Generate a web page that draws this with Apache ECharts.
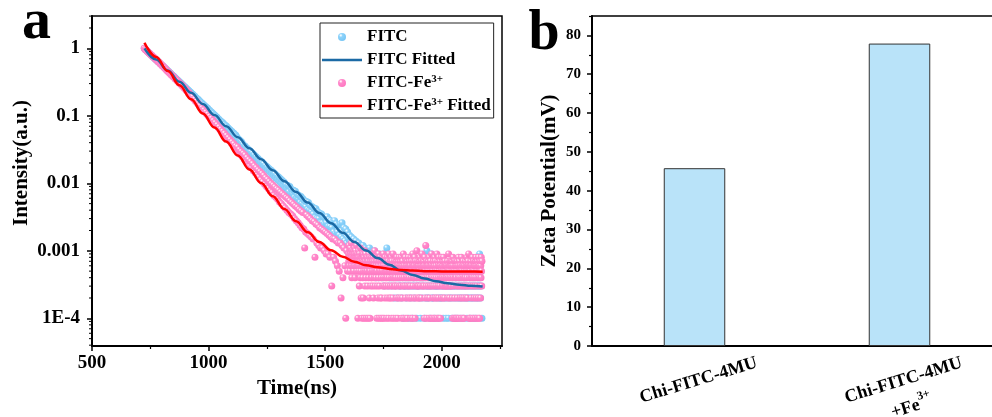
<!DOCTYPE html>
<html>
<head>
<meta charset="utf-8">
<title>FITC decay and zeta potential</title>
<script src="https://cdn.jsdelivr.net/npm/echarts@6.0.0/dist/echarts.min.js"></script>
<style>
    html, body { margin: 0; padding: 0; background: #fff; }
    #chart { width: 992px; height: 417px; }
</style>
</head>
<body>
<div id="chart"></div>
<script>

var FONT = '"Liberation Serif", "Times New Roman", serif';

// ---- panel a : decay curves, photon counts (peak normalised to 10000 counts = 1) ----
var countScale = 10000;

var fitcDecayStart = 724, fitcDecayStep = 4;
var fitcDecay = [
    10000, 9690, 9430, 9120, 8880, 8580, 8360, 8070, 7870, 7590,
    7400, 7140, 6970, 6720, 6560, 6320, 6180, 5950, 5810, 5600,
    5470, 5270, 5150, 4960, 4850, 4670, 4560, 4390, 4300, 4130,
    4040, 3890, 3810, 3660, 3580, 3440, 3370, 3240, 3180, 3050,
    2990, 2870, 2810, 2700, 2650, 2540, 2500, 2390, 2350, 2250,
    2210, 2110, 2080, 1990, 1960, 1870, 1840, 1760, 1740, 1660,
    1630, 1560, 1540, 1470, 1450, 1380, 1360, 1300, 1290, 1220,
    1210, 1150, 1140, 1080, 1072, 1016, 1008, 957, 951, 900,
    893, 846, 841, 796, 793, 750, 746, 705, 704, 663,
    660, 624, 622, 586, 586, 551, 551, 519, 519, 489,
    470, 443, 442, 418, 416, 392, 372, 351, 357, 329,
    334, 309, 314, 292, 297, 271, 280, 258, 262, 240,
    247, 226, 233, 212, 219, 199, 208, 187, 195, 176,
    184, 165, 174, 155, 165, 146, 156, 136, 147, 128,
    139, 120, 131, 113, 124, 106, 117, 99, 110, 93,
    104, 87, 95, 84, 93, 75, 90, 72, 81, 70,
    79, 62, 76, 61, 69, 58, 66, 52, 64, 50,
    59, 48, 55, 45, 54, 41, 52, 40, 47, 38,
    45, 35, 43, 31, 42, 30, 38, 30, 36, 26,
    35, 26, 32, 25, 31, 26, 32, 23, 29, 23,
    28, 22, 27, 19, 28, 18, 25, 19, 24, 17,
    25, 16, 26, 15, 22, 14, 21, 13, 19
];

var fitcTailStart = 1600, fitcTailStep = 2;
var fitcTail = [
    15, 12, 17, 11, 14, 10, 16, 13, 9, 14,
    12, 15, 10, 13, 11, 8, 14, 12, 10, 13,
    11, 9, 13, 10, 8, 12, 9, 11, 7, 10,
    9, 12, 8, 10, 7, 11, 9, 6, 10, 8,
    9, 7, 10, 6, 8, 11, 7, 9, 5, 8,
    8, 6, 9, 7, 5, 8, 10, 6, 7, 4,
    7, 9, 5, 8, 6, 4, 7, 9, 5, 6,
    6, 8, 4, 7, 5, 9, 3, 6, 7, 5,
    5, 7, 11, 6, 8, 3, 5, 7, 4, 6,
    6, 4, 7, 3, 5, 8, 4, 6, 2, 5,
    5, 3, 6, 4, 7, 2, 5, 4, 6, 3,
    4, 6, 3, 5, 2, 7, 4, 1, 5, 3,
    5, 3, 4, 6, 2, 5, 3, 7, 4, 1,
    3, 5, 4, 2, 6, 3, 5, 1, 4, 3,
    4, 2, 5, 3, 6, 4, 1, 5, 3, 4,
    3, 5, 2, 4, 1, 6, 3, 4, 2, 5,
    4, 3, 5, 1, 4, 2, 6, 3, 10, 2,
    3, 5, 2, 4, 3, 1, 5, 3, 9, 2,
    4, 2, 5, 3, 1, 4, 3, 6, 2, 3,
    3, 4, 1, 5, 2, 3, 4, 2, 6, 3,
    2, 4, 3, 1, 5, 3, 2, 4, 3, 1,
    4, 2, 3, 5, 1, 3, 4, 2, 3, 6,
    2, 3, 1, 4, 3, 5, 2, 3, 1, 4,
    3, 2, 4, 1, 3, 5, 2, 4, 3, 2,
    1, 4, 3, 2, 5, 3, 1, 4, 2, 3,
    3, 5, 2, 4, 1, 3, 2, 6, 3, 2,
    4, 1, 3, 2, 5, 3, 2, 4, 1, 3,
    2, 4, 3, 1, 5, 2, 3, 4, 2, 3,
    3, 9, 4, 2, 5, 3, 1
];

var feDecayStart = 724, feDecayStep = 4;
var feDecay = [
    10000, 9590, 9400, 9010, 8900, 8540, 8370, 8050, 7880, 7560,
    7420, 7130, 6980, 6700, 6570, 6310, 6190, 5930, 5820, 5580,
    5470, 5230, 5120, 4880, 4790, 4590, 4500, 4300, 4210, 4030,
    3960, 3780, 3710, 3540, 3480, 3340, 3280, 3120, 3070, 2930,
    2900, 2740, 2720, 2560, 2540, 2400, 2350, 2220, 2190, 2060,
    2030, 1920, 1890, 1780, 1760, 1650, 1640, 1530, 1520, 1420,
    1410, 1320, 1310, 1225, 1220, 1140, 1135, 1055, 1060, 980,
    985, 910, 918, 845, 850, 786, 790, 728, 735, 676,
    684, 628, 636, 582, 591, 540, 550, 500, 512, 466,
    476, 431, 443, 400, 412, 371, 384, 344, 357, 319,
    345, 290, 315, 268, 296, 250, 279, 229, 262, 214,
    241, 198, 224, 180, 210, 170, 196, 154, 181, 143,
    170, 133, 158, 124, 149, 112, 140, 105, 131, 97,
    121, 90, 114, 84, 106, 77, 99, 73, 94, 66,
    88, 62, 83, 58, 79, 53, 74, 50, 70, 46,
    66, 43, 62, 40, 59, 37, 55, 35, 52, 33,
    49, 30, 46, 28, 44, 26, 41, 24, 39, 22,
    37, 21, 11, 19, 34, 18, 32, 17, 30, 16,
    28, 15, 27, 8, 25, 13, 24, 12, 22, 11,
    21, 11, 20, 10, 19, 9, 18, 9, 17, 8,
    16, 3, 15, 8, 15, 7, 14, 6, 13, 5,
    13, 2, 12, 4, 11, 6, 1, 10, 5
];

var feTailStart = 1600, feTailStep = 1;
var feTail = [
    9, 7, 12, 6, 8, 10, 5, 8, 11, 7, 9, 6, 13, 8, 4, 10, 7, 9, 6, 8,
    7, 10, 5, 8, 9, 6, 11, 7, 4, 8, 10, 6, 9, 7, 12, 5, 8, 6, 9, 7,
    1, 8, 6, 10, 5, 7, 3, 9, 6, 8, 4, 11, 7, 5, 2, 8, 6, 9, 1, 7,
    6, 4, 9, 2, 7, 5, 8, 1, 6, 10, 3, 7, 5, 9, 4, 6, 1, 8, 5, 7,
    5, 8, 3, 6, 1, 7, 4, 9, 5, 2, 6, 8, 1, 5, 7, 3, 6, 4, 8, 6,
    4, 7, 5, 9, 3, 6, 8, 2, 5, 7, 4, 6, 10, 5, 3, 8, 6, 4, 7, 5,
    6, 1, 5, 8, 3, 7, 2, 6, 4, 9, 1, 5, 7, 3, 6, 8, 2, 5, 1, 7,
    4, 6, 2, 8, 5, 1, 7, 3, 6, 9, 4, 5, 1, 7, 3, 6, 2, 8, 5, 4,
    7, 3, 5, 1, 6, 4, 8, 2, 5, 7, 3, 6, 1, 9, 4, 5, 2, 6, 7, 3,
    5, 2, 6, 8, 1, 4, 7, 3, 5, 6, 2, 9, 4, 1, 6, 5, 3, 7, 4, 6,
    3, 6, 4, 1, 7, 5, 2, 8, 6, 3, 5, 1, 4, 7, 6, 2, 5, 8, 3, 6,
    5, 4, 7, 2, 6, 3, 8, 1, 5, 6, 4, 2, 7, 5, 3, 9, 1, 6, 4, 5,
    6, 3, 5, 8, 2, 1, 7, 4, 6, 5, 3, 7, 1, 4, 6, 2, 8, 5, 3, 6,
    4, 7, 2, 5, 6, 3, 1, 8, 5, 4, 7, 2, 6, 5, 1, 9, 3, 6, 4, 7,
    5, 2, 6, 4, 8, 1, 5, 7, 3, 6, 2, 5, 4, 10, 6, 3, 7, 5, 2, 6,
    3, 6, 5, 7, 2, 4, 8, 5, 3, 6, 4, 7, 5, 2, 6, 9, 4, 5, 3, 7,
    6, 4, 7, 3, 5, 1, 6, 8, 2, 5, 4, 12, 6, 3, 7, 1, 5, 4, 6, 2,
    5, 7, 3, 6, 4, 1, 8, 5, 2, 6, 3, 7, 5, 1, 4, 6, 9, 3, 5, 1,
    4, 6, 2, 7, 5, 3, 1, 6, 4, 8, 2, 5, 7, 1, 3, 6, 4, 5, 2, 9,
    1, 5, 7, 3, 6, 4, 2, 8, 1, 5, 6, 3, 7, 4, 1, 6, 5, 2, 8, 4,
    5, 3, 6, 4, 7, 2, 5, 8, 3, 6, 4, 5, 2, 7, 6, 3, 5, 4, 6, 3,
    6, 4, 5, 3, 7, 2, 6, 5, 4, 9, 3, 6, 5, 2, 7, 4, 6, 3, 5, 7,
    3, 6, 4, 7, 2, 5, 1, 6, 8, 4, 5, 3, 1, 7, 5, 2, 6, 4, 1, 7,
    5, 4, 1, 6, 3, 7, 2, 5, 1, 6, 4, 8, 3, 5, 1, 7, 4, 6, 2, 5,
    6, 3, 5, 1, 8, 4, 2, 6, 5, 3, 1, 7, 4, 6, 2, 5, 1, 6, 4, 3,
    4, 7, 5, 2, 6, 3, 5, 8, 4, 6, 2, 5, 7, 3, 6, 9, 5, 1, 4, 6,
    1, 5, 6, 3, 7, 4, 2, 6, 1, 5, 4, 8, 3, 6, 5, 1, 7, 4, 2, 6,
    5, 3, 6, 1, 7, 4, 8, 2, 5, 6, 3, 1, 7, 5, 4, 6, 2, 8, 1, 5,
    6, 4, 1, 7, 3, 5, 2, 6, 4, 8, 5, 3, 7
];

// fitted curves (intensity, a.u.)
var fitTime = [725, 775, 825, 875, 925, 975, 1025, 1075, 1125, 1175,
    1225, 1275, 1325, 1375, 1425, 1475, 1525, 1575, 1625, 1675,
    1725, 1775, 1825, 1875, 1925, 1975, 2025, 2075, 2125, 2175];
var fitcFitted = [1.0, 0.684, 0.468, 0.320, 0.219, 0.150, 0.1026, 0.0703, 0.0481, 0.0330,
    0.0227, 0.0156, 0.01075, 0.00744, 0.00518, 0.00363, 0.00257, 0.00185, 0.00135, 0.00101,
    0.00078, 0.00062, 0.00051, 0.00044, 0.00039, 0.000355, 0.000331, 0.000315, 0.000304, 0.000296];
var feFitted = [1.21, 0.746, 0.460, 0.2841, 0.1754, 0.1083, 0.0670, 0.0415, 0.0258, 0.01607,
    0.0101, 0.00642, 0.00415, 0.00274, 0.00188, 0.00135, 0.00102, 0.00082, 0.00069, 0.00061,
    0.00057, 0.00054, 0.00052, 0.00051, 0.00050, 0.000497, 0.000494, 0.000493, 0.000492, 0.000491];

var timeTicks = [500, 1000, 1500, 2000];
var timeMinorTicks = [750, 1250, 1750, 2250];
var intensityTickText = ['1E-4', '0.001', '0.01', '0.1', '1'];   // 10^-4 ... 10^0
var timeRange = [500, 2258];
var intensityRange = [3.89e-5, 3.01];

// ---- panel b : zeta potential ----
var zetaLabels = ['Chi-FITC-4MU', 'Chi-FITC-4MU\n+Fe3+'];
var zetaValues = [45.8, 77.9];
var zetaTicks = [0, 10, 20, 30, 40, 50, 60, 70, 80];
var zetaMinorTicks = [5, 15, 25, 35, 45, 55, 65, 75, 85];
var zetaRange = [0, 85];


function onReady(fn) {
    if (document.readyState === 'loading') {
        document.addEventListener('DOMContentLoaded', fn);
    } else {
        fn();
    }
}

onReady(drawCharts);


function drawCharts() {
    var chart = echarts.init(document.getElementById('chart'));

    var boldText = { color: '#000', fontFamily: FONT, fontWeight: 'bold' };
    var lineIcon = 'path://M0,0H40V2.5H0Z';

    //衰减数据转成坐标点
    var fitcPoints = toPoints(fitcDecayStart, fitcDecayStep, fitcDecay)
        .concat(toPoints(fitcTailStart, fitcTailStep, fitcTail));
    var fePoints = toPoints(feDecayStart, feDecayStep, feDecay)
        .concat(toPoints(feTailStart, feTailStep, feTail));

    var fitcFitPoints = fitTime.map(function (t, i) { return [t, fitcFitted[i]]; });
    var feFitPoints = fitTime.map(function (t, i) { return [t, feFitted[i]]; });

    var option = {
        animation: false,
        backgroundColor: '#fff',
        grid: [
            { left: 92, top: 16, width: 410, height: 330, show: true, borderColor: '#000', borderWidth: 1.5, outerBoundsMode: 'none' },
            { left: 592, top: 16, width: 410, height: 330, show: true, borderColor: '#000', borderWidth: 1.5, outerBoundsMode: 'none' }
        ],
        legend: {
            left: 320,
            top: 23,
            orient: 'vertical',
            itemWidth: 40,
            itemHeight: 8,
            itemGap: 5,
            padding: [5, 3, 3, 2],
            borderColor: '#222',
            borderWidth: 1,
            backgroundColor: '#fff',
            data: [
                { name: 'FITC', icon: 'circle' },
                { name: 'FITC Fitted', icon: lineIcon },
                { name: 'FITC-Fe3+', icon: 'circle' },
                { name: 'FITC-Fe3+ Fitted', icon: lineIcon }
            ],
            formatter: function (name) {
                return '{n|' + name.replace('Fe3+', 'Fe}{sup|3+}{n|') + '}';
            },
            textStyle: {
                color: '#000', fontFamily: FONT, fontWeight: 'bold', fontSize: 17, lineHeight: 18,
                rich: {
                    n: { color: '#000', fontFamily: FONT, fontWeight: 'bold', fontSize: 17, lineHeight: 18 },
                    sup: { color: '#000', fontFamily: FONT, fontWeight: 'bold', fontSize: 11, lineHeight: 10, verticalAlign: 'top' }
                }
            }
        },
        xAxis: [
            {
                type: 'value', gridIndex: 0, min: timeRange[0], max: timeRange[1],
                axisLine: { lineStyle: { color: '#000', width: 2 } },
                axisTick: { customValues: timeTicks, length: 5, lineStyle: { color: '#000', width: 1.5 } },
                axisLabel: Object.assign({
                    customValues: timeTicks, margin: 8, fontSize: 19,
                    formatter: function (v) { return String(v); }
                }, boldText),
                splitLine: { show: false }
            },
            {
                type: 'value', gridIndex: 0, position: 'bottom', min: timeRange[0], max: timeRange[1],
                axisLine: { show: false },
                axisTick: { customValues: timeMinorTicks, length: 3, lineStyle: { color: '#000', width: 1.2 } },
                axisLabel: { show: false },
                splitLine: { show: false }
            },
            {
                type: 'category', gridIndex: 1, data: zetaLabels,
                axisLine: { lineStyle: { color: '#000', width: 2 } },
                axisTick: { alignWithLabel: true, length: 6, lineStyle: { color: '#000', width: 1.5 } },
                axisLabel: {
                    rotate: 17, align: 'center', verticalAlign: 'top', margin: 21, interval: 0,
                    formatter: function (v) {
                        var lines = v.split('\n');
                        var out = '{l|' + lines[0] + '}';
                        if (lines[1]) out += '\n{l|' + lines[1].replace('3+', '}{sup|3+}');
                        return out;
                    },
                    rich: {
                        l: { color: '#000', fontFamily: FONT, fontWeight: 'bold', fontSize: 18, lineHeight: 28 },
                        sup: { color: '#000', fontFamily: FONT, fontWeight: 'bold', fontSize: 12, lineHeight: 20, verticalAlign: 'top' }
                    }
                },
                splitLine: { show: false }
            },
            {
                type: 'category', gridIndex: 1, position: 'bottom', data: zetaLabels,
                axisLine: { show: false },
                axisTick: { length: 3, lineStyle: { color: '#000', width: 1.2 } },
                axisLabel: { show: false },
                splitLine: { show: false }
            }
        ],
        yAxis: [
            {
                type: 'log', gridIndex: 0, logBase: 10, min: intensityRange[0], max: intensityRange[1],
                axisLine: { show: true, lineStyle: { color: '#000', width: 2 } },
                axisTick: { show: true, length: 5, lineStyle: { color: '#000', width: 1.5 } },
                axisLabel: Object.assign({
                    margin: 12, fontSize: 19, showMinLabel: false, showMaxLabel: false,
                    formatter: function (v) {
                        var e = Math.round(Math.log10(v));
                        return intensityTickText[e + 4] || '';
                    }
                }, boldText),
                splitLine: { show: false }
            },
            {
                type: 'value', gridIndex: 1, min: zetaRange[0], max: zetaRange[1],
                axisLine: { show: true, lineStyle: { color: '#000', width: 2 } },
                axisTick: { show: true, customValues: zetaTicks, length: 5, lineStyle: { color: '#000', width: 1.5 } },
                axisLabel: Object.assign({ customValues: zetaTicks, margin: 11, fontSize: 15 }, boldText),
                splitLine: { show: false }
            },
            {
                type: 'value', gridIndex: 1, position: 'left', min: zetaRange[0], max: zetaRange[1],
                axisLine: { show: false },
                axisTick: { show: true, customValues: zetaMinorTicks, length: 3, lineStyle: { color: '#000', width: 1.2 } },
                axisLabel: { show: false },
                splitLine: { show: false }
            }
        ],
        series: [
            {
                name: 'FITC', type: 'scatter', xAxisIndex: 0, yAxisIndex: 0,
                data: fitcPoints, symbolSize: 7, z: 2,
                itemStyle: { color: ballColor('#e0f4ff', '#8ed3fb', '#76c5f4'), opacity: 1 }
            },
            {
                name: 'FITC-Fe3+', type: 'scatter', xAxisIndex: 0, yAxisIndex: 0,
                data: fePoints, symbolSize: 7, z: 3,
                itemStyle: { color: ballColor('#ffe0f0', '#ff8bcc', '#ff76c0'), opacity: 1 }
            },
            {
                name: 'FITC Fitted', type: 'line', xAxisIndex: 0, yAxisIndex: 0,
                data: fitcFitPoints, symbol: 'none', smooth: 0.4, smoothMonotone: 'x', z: 4,
                lineStyle: { color: '#1b6aa5', width: 2.5 },
                itemStyle: { color: '#1b6aa5' }
            },
            {
                name: 'FITC-Fe3+ Fitted', type: 'line', xAxisIndex: 0, yAxisIndex: 0,
                data: feFitPoints, symbol: 'none', smooth: 0.4, smoothMonotone: 'x', z: 5,
                lineStyle: { color: '#ff0000', width: 2.5 },
                itemStyle: { color: '#ff0000' }
            },
            {
                name: 'Zeta', type: 'bar', xAxisIndex: 2, yAxisIndex: 1,
                data: zetaValues, barWidth: '30%',
                itemStyle: { color: '#b9e3f9', borderColor: '#333', borderWidth: 1 }
            }
        ]
    };

    chart.setOption(option);

    //对数轴的次刻度 (2..9 x 10^n) 和标题文字
    var graphics = [];
    var axisX = chart.convertToPixel({ xAxisIndex: 0 }, timeRange[0]);
    for (var d = -5; d <= 0; d++) {
        for (var k = 2; k <= 9; k++) {
            var v = k * Math.pow(10, d);
            if (v < intensityRange[0] || v > intensityRange[1]) continue;
            var py = chart.convertToPixel({ yAxisIndex: 0 }, v);
            graphics.push({
                type: 'line', silent: true,
                shape: { x1: axisX - 3, y1: py, x2: axisX, y2: py },
                style: { stroke: '#000', lineWidth: 1 }
            });
        }
    }

    graphics.push(textItem('a', 36.5, 23.4, 58, 0));
    graphics.push(textItem('b', 544, 34.1, 56, 0));
    graphics.push(textItem('Intensity(a.u.)', 22, 163, 21, Math.PI / 2));
    graphics.push(textItem('Zeta Potential(mV)', 550, 181, 21, Math.PI / 2));
    graphics.push(textItem('Time(ns)', 297, 389, 21, 0));

    chart.setOption({ graphic: graphics });
}


function toPoints(start, step, counts) {
    var pts = [];
    for (var i = 0; i < counts.length; i++) {
        pts.push([start + i * step, counts[i] / countScale]);
    }
    return pts;
}

function ballColor(light, mid, dark) {
    return new echarts.graphic.RadialGradient(0.35, 0.3, 0.75, [
        { offset: 0, color: '#ffffff' },
        { offset: 0.1, color: light },
        { offset: 0.3, color: mid },
        { offset: 1, color: dark }
    ]);
}

function textItem(text, x, y, size, rotation) {
    return {
        type: 'text', x: x, y: y, rotation: rotation, silent: true,
        style: {
            text: text, fill: '#000', fontFamily: FONT, fontWeight: 'bold', fontSize: size,
            textAlign: 'center', textVerticalAlign: 'middle'
        }
    };
}

</script>
</body>
</html>
